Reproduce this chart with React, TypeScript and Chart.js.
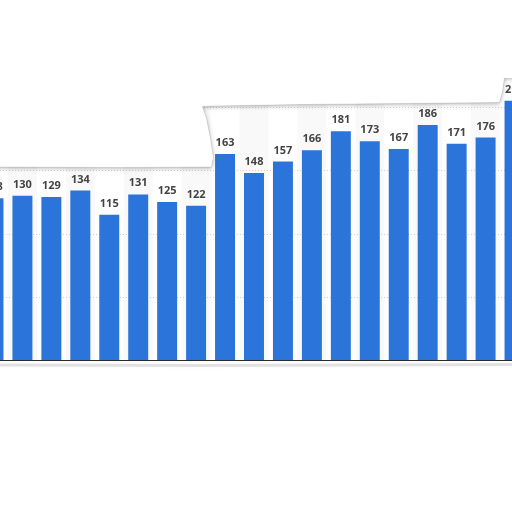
import { useEffect, useRef } from "react";
import { Chart, registerables } from "chart.js";

Chart.register(...registerables);

const categories = [
  "c01", "c02", "c03", "c04", "c05", "c06", "c07", "c08", "c09", "c10",
  "c11", "c12", "c13", "c14", "c15", "c16", "c17", "c18", "c19",
];
const values = [128, 130, 129, 134, 115, 131, 125, 122, 163, 148, 157, 166, 181, 173, 167, 186, 171, 176, 205];
const gridValues = [50, 100, 150, 200, 250];
const yMax = 284.8;

const OFFSET_X = 21.4; // canvas is shifted left so the first bar is cut by the page edge
const CANVAS_W = 550;
const CANVAS_H = 512;

// torn-paper outlines (page coordinates)
const topTear: [number, number][] = [
  [-5, -5], [520, -5], [520, 78], [504, 78], [502, 92], [499, 102.5], [400, 103.5], [300, 104.5],
  [212, 106], [202, 106.5], [206, 118], [210, 138], [213, 158], [211, 167], [120, 167.5], [-5, 167],
];
const bottomTearY = 361.5;

const decorPlugin = {
  id: "decor",
  beforeDatasetsDraw(chart: any) {
    const { ctx, chartArea, scales } = chart;
    const x = scales.x;
    const y = scales.y;
    const step = chartArea.width / categories.length;
    ctx.save();
    ctx.fillStyle = "#f9f9f9";
    categories.forEach((_, i) => {
      if (i % 2 === 1) {
        const cx = x.getPixelForValue(i);
        ctx.fillRect(cx - step / 2, chartArea.top, step, y.getPixelForValue(0) - chartArea.top);
      }
    });
    ctx.strokeStyle = "#cfcfcf";
    ctx.lineWidth = 1;
    ctx.setLineDash([1, 2]);
    gridValues.forEach((v) => {
      const py = Math.round(y.getPixelForValue(v)) + 0.5;
      ctx.beginPath();
      ctx.moveTo(chartArea.left, py);
      ctx.lineTo(chartArea.right, py);
      ctx.stroke();
    });
    ctx.restore();
  },
  afterDatasetsDraw(chart: any) {
    const { ctx, chartArea, scales } = chart;
    const y = scales.y;
    const meta = chart.getDatasetMeta(0);
    ctx.save();
    // baseline
    ctx.strokeStyle = "#2a2a2a";
    ctx.lineWidth = 1;
    const by = Math.round(y.getPixelForValue(0)) + 0.5;
    ctx.beginPath();
    ctx.moveTo(chartArea.left, by);
    ctx.lineTo(chartArea.right, by);
    ctx.stroke();
    // value labels
    ctx.fillStyle = "#444444";
    ctx.font = "bold 11px 'Open Sans', 'DejaVu Sans', sans-serif";
    ctx.textAlign = "center";
    ctx.textBaseline = "alphabetic";
    meta.data.forEach((bar: any, i: number) => {
      ctx.fillText(String(values[i]), bar.x, bar.y - 8);
    });
    ctx.restore();
  },
  afterDraw(chart: any) {
    const { ctx } = chart;
    const W = CANVAS_W;
    ctx.save();
    ctx.translate(OFFSET_X, 0);
    // top tear
    ctx.save();
    ctx.shadowColor = "rgba(0,0,0,0.3)";
    ctx.shadowBlur = 4;
    ctx.shadowOffsetY = 1;
    ctx.fillStyle = "#ffffff";
    ctx.beginPath();
    topTear.forEach(([px, py], i) => (i === 0 ? ctx.moveTo(px, py) : ctx.lineTo(px, py)));
    ctx.closePath();
    ctx.fill();
    ctx.restore();
    ctx.strokeStyle = "rgba(0,0,0,0.1)";
    ctx.lineWidth = 1;
    ctx.beginPath();
    topTear.slice(3).forEach(([px, py], i) => (i === 0 ? ctx.moveTo(px, py) : ctx.lineTo(px, py)));
    ctx.stroke();
    // bottom tear
    ctx.fillStyle = "#ffffff";
    ctx.fillRect(-OFFSET_X - 5, bottomTearY, W + 10, CANVAS_H);
    ctx.save();
    ctx.shadowColor = "rgba(0,0,0,0.3)";
    ctx.shadowBlur = 4;
    ctx.strokeStyle = "rgba(0,0,0,0.1)";
    ctx.lineWidth = 3;
    ctx.beginPath();
    ctx.moveTo(-5, bottomTearY + 3.5);
    ctx.lineTo(200, bottomTearY + 4);
    ctx.lineTo(520, bottomTearY + 3);
    ctx.stroke();
    ctx.restore();
    ctx.restore();
  },
};

export default function App() {
  const ref = useRef<HTMLCanvasElement>(null);
  useEffect(() => {
    if (!ref.current) return;
    const chart = new Chart(ref.current, {
      type: "bar",
      data: {
        labels: categories,
        datasets: [
          {
            data: values,
            backgroundColor: "#2a74da",
            borderWidth: 0,
            categoryPercentage: 0.69,
            barPercentage: 1,
          },
        ],
      },
      options: {
        animation: false,
        responsive: false,
        devicePixelRatio: 1,
        layout: { padding: { left: 0, right: 0, top: 0, bottom: CANVAS_H - 360 } },
        plugins: { legend: { display: false }, tooltip: { enabled: false }, title: { display: false } },
        scales: {
          x: { display: false, offset: true },
          y: { display: false, min: 0, max: yMax },
        },
      },
      plugins: [decorPlugin],
    });
    return () => chart.destroy();
  }, []);
  return (
    <div style={{ position: "fixed", left: -OFFSET_X, top: 0, width: CANVAS_W, height: CANVAS_H, background: "#fff" }}>
      <canvas ref={ref} width={CANVAS_W} height={CANVAS_H} style={{ width: CANVAS_W, height: CANVAS_H, display: "block" }} />
    </div>
  );
}
